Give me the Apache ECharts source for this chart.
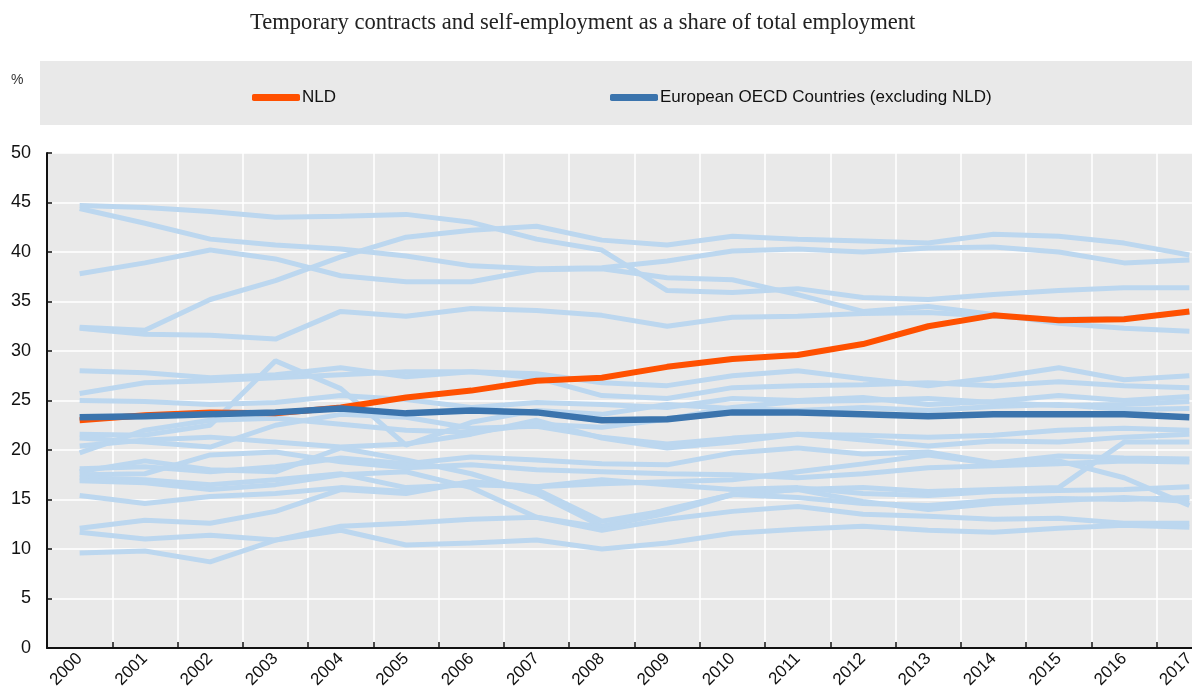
<!DOCTYPE html>
<html>
<head>
<meta charset="utf-8">
<title>Temporary contracts and self-employment</title>
<script src="https://cdn.jsdelivr.net/npm/echarts@6/dist/echarts.min.js"></script>
<style>
  html, body { margin: 0; padding: 0; background: #fff; }
  #chart { width: 1192px; height: 690px; }
</style>
</head>
<body>
<div id="chart"></div>
<script>
// years on the x axis
var years = ['2000','2001','2002','2003','2004','2005','2006','2007','2008',
             '2009','2010','2011','2012','2013','2014','2015','2016','2017'];

// Netherlands
var nld = [23.0, 23.5, 23.8, 23.7, 24.3, 25.3, 26.0, 27.0, 27.3,
           28.4, 29.2, 29.6, 30.7, 32.5, 33.6, 33.1, 33.2, 34.0];

// European OECD average (excluding NLD)
var europe = [23.3, 23.4, 23.6, 23.8, 24.2, 23.7, 24.0, 23.8, 23.0,
              23.1, 23.8, 23.8, 23.6, 23.4, 23.6, 23.6, 23.6, 23.3];

// individual countries (light blue lines)
var c01 = [44.7, 44.5, 44.1, 43.5, 43.6, 43.8, 43.0, 41.3, 40.2, 36.1, 35.9, 36.3, 35.4, 35.2, 35.7, 36.1, 36.4, 36.4];
var c02 = [44.4, 42.9, 41.3, 40.7, 40.3, 39.6, 38.6, 38.3, 38.4, 39.1, 40.1, 40.3, 40.0, 40.4, 40.5, 40.0, 38.9, 39.2];
var c03 = [32.4, 32.1, 35.2, 37.1, 39.5, 41.5, 42.2, 42.6, 41.2, 40.7, 41.6, 41.3, 41.1, 40.9, 41.8, 41.6, 40.9, 39.7];
var c04 = [37.8, 38.9, 40.2, 39.3, 37.6, 37.0, 37.0, 38.2, 38.3, 37.4, 37.2, 35.7, 34.0, 34.5, 33.7, 32.8, 32.3, 32.0];
var c05 = [32.3, 31.7, 31.6, 31.2, 34.0, 33.5, 34.3, 34.1, 33.6, 32.5, 33.4, 33.5, 33.8, 33.9, 33.5, 33.2, 33.3, 33.9];
var c06 = [28.0, 27.8, 27.3, 27.6, 28.3, 27.4, 27.9, 27.7, 26.8, 26.5, 27.5, 28.0, 27.2, 26.5, 27.3, 28.3, 27.1, 27.5];
var c07 = [25.7, 26.8, 27.0, 27.3, 27.6, 27.9, 27.9, 27.3, 25.5, 25.2, 26.3, 26.5, 26.6, 26.8, 26.5, 26.9, 26.5, 26.3];
var c08 = [25.0, 24.9, 24.6, 24.8, 25.5, 25.1, 24.3, 24.8, 24.6, 24.3, 25.2, 25.0, 25.3, 24.6, 24.9, 25.5, 25.0, 25.4];
var c09 = [21.6, 21.5, 22.5, 29.0, 26.2, 20.5, 22.8, 24.0, 23.6, 24.6, 24.2, 24.0, 24.3, 24.0, 24.4, 24.6, 24.1, 24.2];
var c10 = [21.2, 20.8, 20.3, 22.5, 23.6, 23.3, 22.2, 22.4, 21.3, 20.6, 21.2, 21.6, 21.5, 21.3, 21.5, 22.0, 22.2, 22.0];
var c11 = [20.4, 21.0, 21.3, 20.8, 20.3, 20.6, 21.6, 23.0, 21.2, 20.2, 20.8, 21.6, 21.0, 20.4, 20.9, 20.8, 21.3, 21.6];
var c12 = [19.7, 22.0, 23.0, 23.2, 22.6, 22.0, 21.8, 22.6, 22.3, 23.1, 24.3, 24.9, 25.0, 25.2, 24.8, 24.5, 24.6, 24.9];
var c13 = [18.1, 18.3, 17.8, 18.3, 19.2, 18.6, 19.3, 19.0, 18.6, 18.5, 19.7, 20.2, 19.6, 19.8, 18.7, 19.4, 19.2, 19.1];
var c14 = [17.8, 18.9, 18.0, 17.8, 20.2, 19.0, 17.6, 15.6, 12.3, 13.6, 15.5, 16.0, 16.2, 15.8, 16.0, 16.2, 20.8, 20.8];
var c15 = [17.5, 17.6, 19.5, 19.8, 18.8, 18.2, 18.5, 18.0, 17.8, 17.6, 17.5, 17.2, 17.6, 18.2, 18.4, 18.6, 18.9, 18.8];
var c16 = [17.2, 17.0, 16.5, 17.0, 17.6, 16.2, 16.5, 16.3, 17.0, 16.5, 16.0, 16.2, 15.6, 15.4, 15.8, 15.9, 16.0, 16.3];
var c17 = [16.9, 16.7, 16.0, 16.5, 17.5, 17.8, 16.2, 13.2, 12.2, 14.0, 15.5, 15.2, 14.6, 14.4, 14.9, 15.1, 15.0, 15.2];
var c18 = [15.4, 14.6, 15.3, 15.6, 16.2, 15.8, 16.8, 16.3, 16.6, 16.8, 17.0, 17.8, 18.6, 19.5, 18.6, 18.9, 17.2, 14.4];
var c19 = [12.1, 12.9, 12.6, 13.8, 16.0, 15.6, 16.8, 16.0, 12.8, 13.9, 15.5, 16.0, 14.8, 14.0, 14.6, 14.9, 15.2, 14.8];
var c20 = [11.7, 11.0, 11.4, 10.9, 12.3, 12.6, 13.0, 13.2, 11.9, 13.0, 13.8, 14.3, 13.5, 13.3, 13.0, 13.1, 12.6, 12.6];
var c21 = [9.6, 9.8, 8.7, 10.9, 11.9, 10.4, 10.6, 10.9, 10.0, 10.6, 11.6, 12.0, 12.3, 11.9, 11.7, 12.1, 12.4, 12.2];

var countries = [c01, c02, c03, c04, c05, c06, c07, c08, c09, c10, c11,
                 c12, c13, c14, c15, c16, c17, c18, c19, c20, c21];

var sans = '"Liberation Sans", Arial, sans-serif';

var myChart = echarts.init(document.getElementById('chart'));

var series = [];
for (var i = 0; i < countries.length; i++) {
  series.push({
    name: 'country' + i,
    type: 'line',
    data: countries[i],
    symbol: 'none',
    silent: true,
    z: 1,
    lineStyle: { color: '#bcd7ef', width: 5 }
  });
}
series.push({
  name: 'NLD',
  type: 'line',
  data: nld,
  symbol: 'none',
  z: 3,
  lineStyle: { color: '#ff5000', width: 6 },
  itemStyle: { color: '#ff5000' }
});
series.push({
  name: 'European OECD Countries (excluding NLD)',
  type: 'line',
  data: europe,
  symbol: 'none',
  z: 4,
  lineStyle: { color: '#3b74ad', width: 6.5 },
  itemStyle: { color: '#3b74ad' }
});

var option = {
  animation: false,
  title: {
    text: 'Temporary contracts and self-employment as a share of total employment',
    left: 245,
    top: 7,
    textStyle: {
      fontFamily: '"Liberation Serif", "Times New Roman", serif',
      fontSize: 22.6,
      fontWeight: 'normal',
      color: '#222'
    }
  },
  graphic: [
    {
      type: 'rect',
      left: 40,
      top: 61,
      z: -10,
      silent: true,
      shape: { width: 1160, height: 64 },
      style: { fill: '#e9e9e9' }
    },
    {
      type: 'text',
      left: 11,
      top: 73,
      silent: true,
      style: { text: '%', fill: '#333', font: '14px ' + sans }
    }
  ],
  legend: [
    {
      data: ['NLD'],
      left: 247,
      top: 84,
      icon: 'roundRect',
      itemWidth: 48,
      itemHeight: 7,
      textStyle: { fontFamily: sans, fontSize: 17, color: '#111', padding: [0, 0, 0, -3] }
    },
    {
      data: ['European OECD Countries (excluding NLD)'],
      left: 605,
      top: 84,
      icon: 'roundRect',
      itemWidth: 48,
      itemHeight: 7,
      textStyle: { fontFamily: sans, fontSize: 17, color: '#111', padding: [0, 0, 0, -3] }
    }
  ],
  grid: {
    left: 47,
    width: 1175,
    top: 153,
    bottom: 42,
    containLabel: false,
    outerBoundsMode: 'none',
    show: true,
    backgroundColor: '#e9e9e9',
    borderWidth: 0
  },
  xAxis: {
    type: 'category',
    data: years,
    boundaryGap: true,
    axisLine: { show: true, lineStyle: { color: '#111', width: 2 } },
    axisTick: { show: true, inside: true, length: 6, lineStyle: { color: '#111', width: 1.5 } },
    splitLine: { show: true, lineStyle: { color: '#ffffff', width: 1.5 } },
    axisLabel: {
      rotate: 45,
      interval: 0,
      margin: 8,
      fontFamily: sans,
      fontSize: 17,
      color: '#111'
    }
  },
  yAxis: {
    type: 'value',
    min: 0,
    max: 50,
    interval: 5,
    axisLine: { show: true, lineStyle: { color: '#111', width: 2 } },
    axisTick: { show: true, inside: true, length: 5, lineStyle: { color: '#111', width: 1.5 } },
    splitLine: { show: true, lineStyle: { color: '#ffffff', width: 1.5 } },
    axisLabel: {
      margin: 16,
      fontFamily: sans,
      fontSize: 18,
      color: '#111'
    }
  },
  series: series
};

myChart.setOption(option);
</script>
</body>
</html>
